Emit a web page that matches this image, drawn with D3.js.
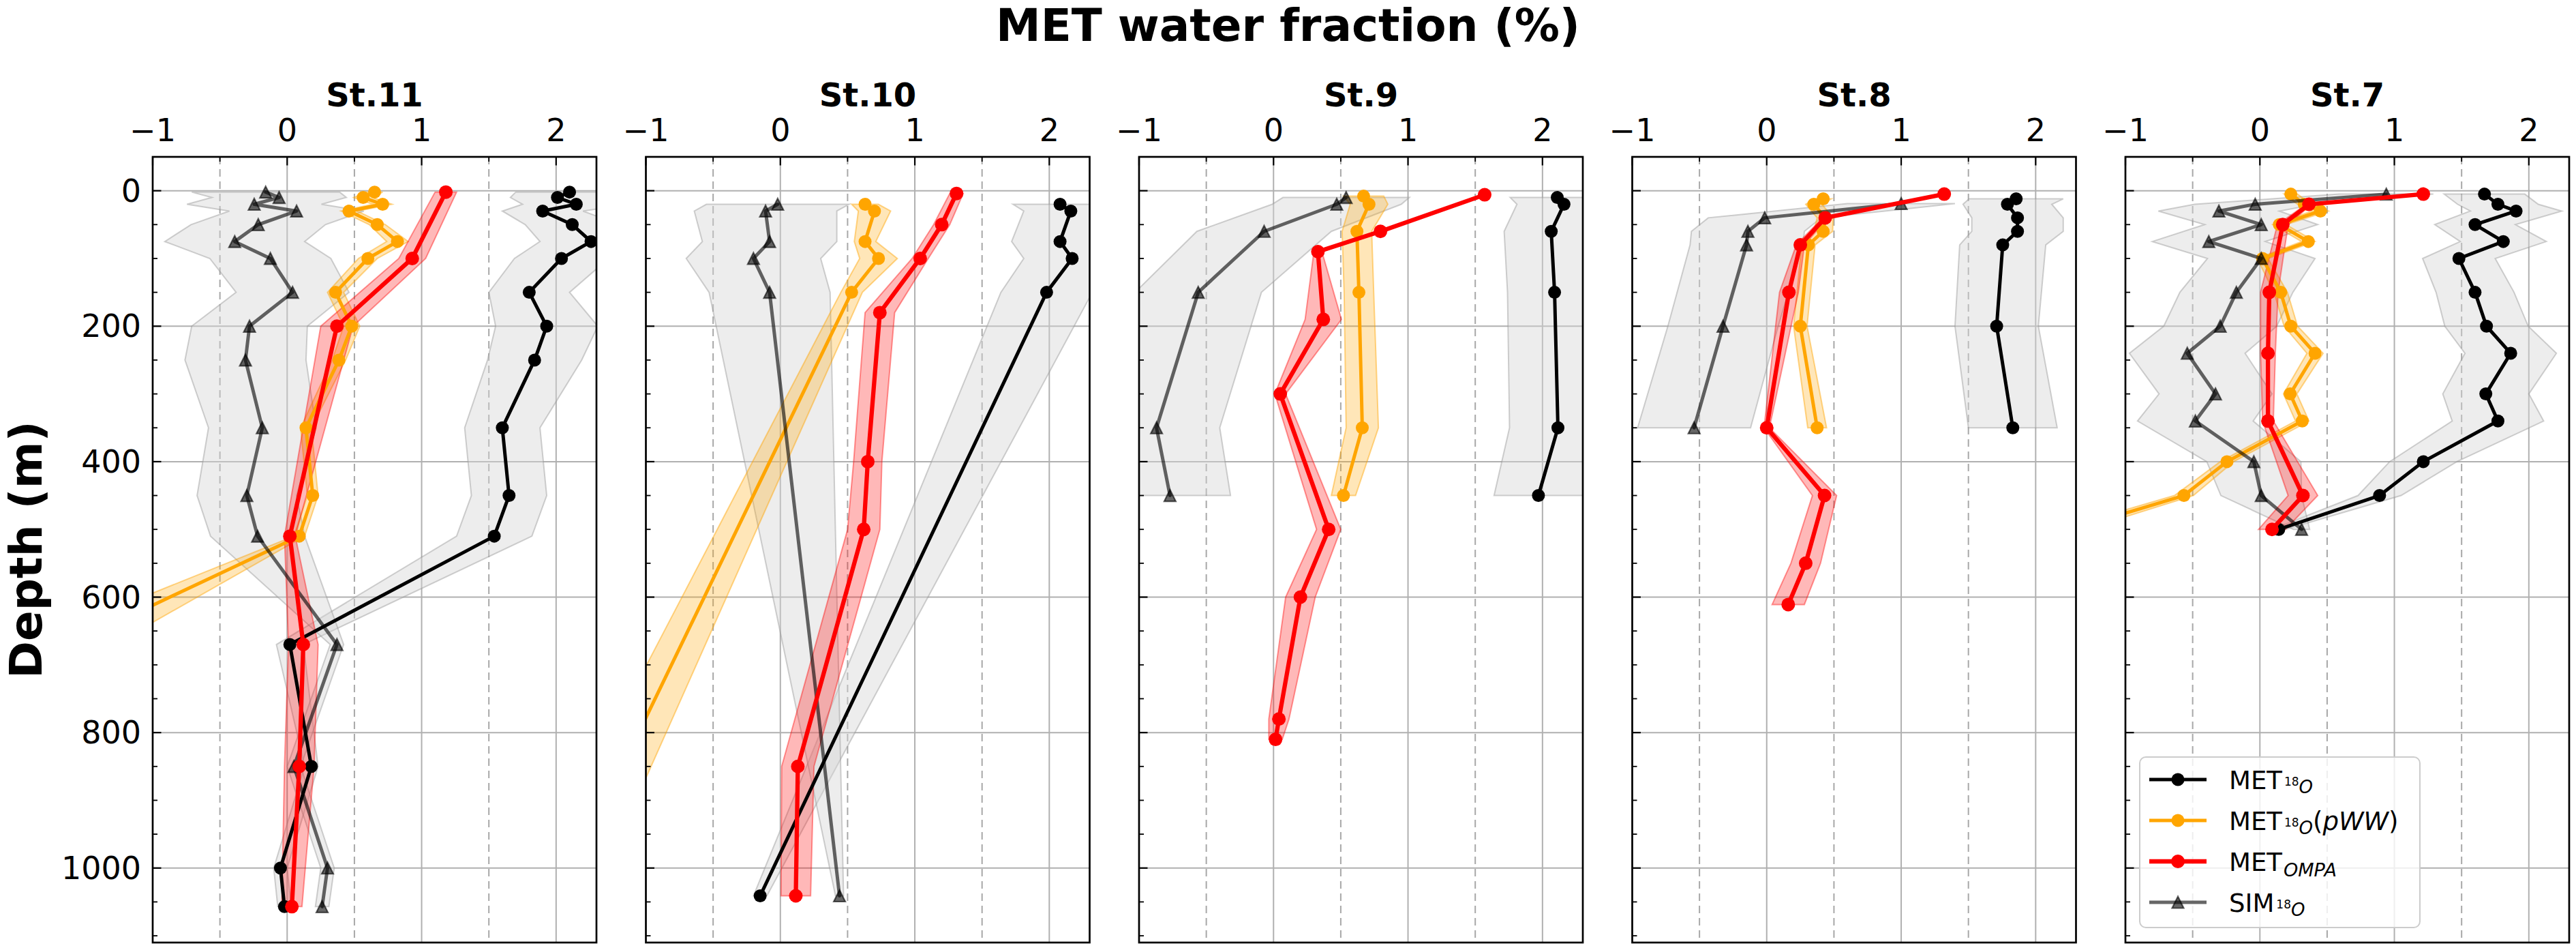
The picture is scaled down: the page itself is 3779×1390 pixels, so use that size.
<!DOCTYPE html>
<html><head><meta charset="utf-8">
<script src="https://cdn.jsdelivr.net/npm/d3@7"></script>
<style>
body{margin:0;background:#fff}
svg{display:block}
text{font-family:"DejaVu Sans",sans-serif}
</style>
</head><body>
<svg id="chart" width="3779" height="1390"></svg>
<script>
// ---------------- DATA ----------------
const stations = ["St.11", "St.10", "St.9", "St.8", "St.7"];
const xTicks = [-1, 0, 1, 2];
const xMinorTicks = [-0.5, 0.5, 1.5];
const yTicks = [0, 200, 400, 600, 800, 1000];
const legendLabels = ["MET18O", "MET18O(pWW)", "METOMPA", "SIM18O"];

// St.11
const st11Depth      = [2, 10, 20, 30, 50, 75, 100, 150, 200, 250, 350, 450, 510, 670, 850, 1000, 1057];
const st11Met18O     = [2.10, 2.01, 2.15, 1.90, 2.12, 2.26, 2.04, 1.80, 1.93, 1.84, 1.60, 1.65, 1.54, 0.02, 0.18, -0.05, -0.02];
const st11Met18OErr  = [0.40, 0.35, 0.40, 0.30, 0.35, 0.38, 0.35, 0.30, 0.38, 0.35, 0.28, 0.28, 0.28, 0.10, 0.05, 0.05, 0.05];
const st11Sim        = [-0.16, -0.06, -0.245, 0.07, -0.215, -0.39, -0.125, 0.04, -0.28, -0.31, -0.185, -0.30, -0.22, 0.37, 0.05, 0.30, 0.26];
const st11SimErr     = [0.55, 0.50, 0.50, 0.50, 0.50, 0.52, 0.45, 0.42, 0.43, 0.45, 0.40, 0.37, 0.35, 0.05, 0.05, 0.05, 0.05];
const st11PwwDepth   = [2, 10, 20, 30, 50, 75, 100, 150, 200, 250, 350, 450, 510, 670];
const st11Pww        = [0.65, 0.565, 0.71, 0.46, 0.67, 0.82, 0.60, 0.36, 0.48, 0.385, 0.14, 0.19, 0.09, -1.62];
const st11PwwErr     = [0.06, 0.07, 0.07, 0.06, 0.06, 0.08, 0.07, 0.06, 0.06, 0.05, 0.04, 0.04, 0.04, 0.33];
const st11OmpaDepth  = [2, 100, 200, 510, 670, 850, 1057];
const st11Ompa       = [1.18, 0.93, 0.37, 0.02, 0.12, 0.09, 0.035];
const st11OmpaErr    = [0.08, 0.10, 0.12, 0.04, 0.11, 0.11, 0.075];

// St.10
const st10Depth      = [20, 30, 75, 100, 150, 1041];
const st10Met18O     = [2.08, 2.16, 2.08, 2.17, 1.98, -0.15];
const st10Met18OErr  = [0.35, 0.35, 0.36, 0.36, 0.34, 0.05];
const st10Sim        = [-0.02, -0.11, -0.08, -0.20, -0.08, 0.44];
const st10SimErr     = [0.53, 0.53, 0.50, 0.50, 0.45, 0.03];
const st10PwwDepth   = [20, 30, 75, 100, 150, 1041];
const st10Pww        = [0.63, 0.70, 0.63, 0.73, 0.53, -1.64];
const st10PwwErr     = [0.10, 0.12, 0.08, 0.14, 0.08, 0.25];
const st10OmpaDepth  = [4, 50, 100, 180, 400, 500, 850, 1041];
const st10Ompa       = [1.31, 1.20, 1.04, 0.74, 0.65, 0.62, 0.13, 0.115];
const st10OmpaErr    = [0.05, 0.06, 0.06, 0.11, 0.105, 0.12, 0.12, 0.11];

// St.9
const st9Depth       = [10, 20, 60, 150, 350, 450];
const st9Met18O      = [2.11, 2.16, 2.065, 2.09, 2.115, 1.97];
const st9Met18OErr   = [0.35, 0.35, 0.35, 0.35, 0.36, 0.33];
const st9Sim         = [0.54, 0.47, -0.07, -0.56, -0.87, -0.77];
const st9SimErr      = [0.47, 0.48, 0.50, 0.47, 0.47, 0.45];
const st9PwwDepth    = [8, 20, 60, 150, 350, 450];
const st9Pww         = [0.67, 0.71, 0.62, 0.635, 0.66, 0.52];
const st9PwwErr      = [0.15, 0.14, 0.11, 0.11, 0.12, 0.09];
const st9OmpaDepth   = [6, 60, 90, 190, 300, 500, 600, 780, 810];
const st9Ompa        = [1.57, 0.795, 0.33, 0.37, 0.05, 0.41, 0.20, 0.04, 0.015];
const st9OmpaErr     = [0.01, 0.01, 0.03, 0.135, 0.04, 0.09, 0.11, 0.075, 0.05];

// St.8
const st8Depth       = [12, 20, 40, 60, 80, 200, 350];
const st8Met18O      = [1.855, 1.79, 1.865, 1.865, 1.755, 1.71, 1.83];
const st8Met18OErr   = [0.35, 0.33, 0.34, 0.34, 0.32, 0.31, 0.33];
const st8SimDepth    = [19, 40, 60, 80, 200, 350];
const st8Sim         = [1.00, -0.015, -0.14, -0.15, -0.325, -0.54];
const st8SimErr      = [0.40, 0.42, 0.42, 0.42, 0.41, 0.42];
const st8PwwDepth    = [12, 20, 40, 60, 80, 200, 350];
const st8Pww         = [0.42, 0.35, 0.435, 0.42, 0.31, 0.25, 0.375];
const st8PwwErr      = [0.06, 0.06, 0.06, 0.07, 0.05, 0.05, 0.07];
const st8OmpaDepth   = [5, 40, 80, 150, 350, 450, 550, 611];
const st8Ompa        = [1.32, 0.435, 0.25, 0.165, 0.0, 0.43, 0.29, 0.16];
const st8OmpaErr     = [0.01, 0.02, 0.03, 0.07, 0.02, 0.09, 0.11, 0.12];

// St.7
const st7Depth       = [5, 20, 30, 50, 75, 100, 150, 200, 240, 300, 340, 400, 450, 500];
const st7Met18O      = [1.67, 1.77, 1.905, 1.60, 1.81, 1.48, 1.60, 1.685, 1.865, 1.68, 1.77, 1.215, 0.89, 0.14];
const st7Met18OErr   = [0.30, 0.30, 0.34, 0.30, 0.32, 0.27, 0.29, 0.31, 0.34, 0.32, 0.34, 0.25, 0.16, 0.05];
const st7Sim         = [0.94, -0.035, -0.305, 0.01, -0.38, 0.01, -0.175, -0.295, -0.54, -0.33, -0.48, -0.045, 0.01, 0.31];
const st7SimErr      = [0.35, 0.45, 0.45, 0.42, 0.42, 0.40, 0.42, 0.42, 0.43, 0.42, 0.43, 0.35, 0.30, 0.06];
const st7PwwDepth    = [5, 20, 30, 50, 75, 100, 150, 200, 240, 300, 340, 400, 450, 500];
const st7Pww         = [0.23, 0.33, 0.45, 0.145, 0.36, 0.02, 0.155, 0.23, 0.41, 0.225, 0.315, -0.245, -0.565, -1.40];
const st7PwwErr      = [0.05, 0.05, 0.06, 0.05, 0.05, 0.04, 0.05, 0.05, 0.06, 0.05, 0.05, 0.05, 0.07, 0.10];
const st7OmpaDepth   = [5, 20, 50, 150, 240, 340, 450, 500];
const st7Ompa        = [1.215, 0.365, 0.17, 0.07, 0.06, 0.06, 0.32, 0.09];
const st7OmpaErr     = [0.01, 0.02, 0.04, 0.065, 0.055, 0.04, 0.11, 0.10];

(function () {
// table built from the arrays
const zip = (d, v, e) => d.map((dd, i) => ({depth: dd, v: v[i], e: e[i]}));
const panels = [
  {name: stations[0], met: zip(st11Depth, st11Met18O, st11Met18OErr), sim: zip(st11Depth, st11Sim, st11SimErr), pww: zip(st11PwwDepth, st11Pww, st11PwwErr), ompa: zip(st11OmpaDepth, st11Ompa, st11OmpaErr)},
  {name: stations[1], met: zip(st10Depth, st10Met18O, st10Met18OErr), sim: zip(st10Depth, st10Sim, st10SimErr), pww: zip(st10PwwDepth, st10Pww, st10PwwErr), ompa: zip(st10OmpaDepth, st10Ompa, st10OmpaErr)},
  {name: stations[2], met: zip(st9Depth, st9Met18O, st9Met18OErr), sim: zip(st9Depth, st9Sim, st9SimErr), pww: zip(st9PwwDepth, st9Pww, st9PwwErr), ompa: zip(st9OmpaDepth, st9Ompa, st9OmpaErr)},
  {name: stations[3], met: zip(st8Depth, st8Met18O, st8Met18OErr), sim: zip(st8SimDepth, st8Sim, st8SimErr), pww: zip(st8PwwDepth, st8Pww, st8PwwErr), ompa: zip(st8OmpaDepth, st8Ompa, st8OmpaErr)},
  {name: stations[4], met: zip(st7Depth, st7Met18O, st7Met18OErr), sim: zip(st7Depth, st7Sim, st7SimErr), pww: zip(st7PwwDepth, st7Pww, st7PwwErr), ompa: zip(st7OmpaDepth, st7Ompa, st7OmpaErr)}
];

// ---------------- LAYOUT ----------------
const svg = d3.select("#chart");
const W = 3779;
const yTop = 230, yBot = 1382, pw = 651, step = 723.5, left0 = 224;
const y = d3.scaleLinear().domain([-50, 1110]).range([yTop, yBot]);
const yMinor = d3.range(50, 1101, 50).filter(v => v % 200 !== 0);

const styles = {
  met:  {color: "#000000", lw: 5, r: 9.5, band: "rgb(211,211,211)", bandOp: 0.42, edge: "rgb(150,150,150)", edgeOp: 0.45},
  sim:  {color: "#000000", lw: 5, r: 9.5, band: "rgb(211,211,211)", bandOp: 0.42, edge: "rgb(150,150,150)", edgeOp: 0.45},
  pww:  {color: "#FFA500", lw: 5, r: 9.5, band: "#FFA500", bandOp: 0.28, edge: "#FFA500", edgeOp: 0.45},
  ompa: {color: "#FF0000", lw: 6.3, r: 10, band: "#FF0000", bandOp: 0.28, edge: "#FF0000", edgeOp: 0.4}
};
const tri = s => `M0,${-s}L${-s},${s}L${s},${s}Z`;

// super title
svg.append("text").attr("x", W / 2).attr("y", 60).attr("text-anchor", "middle")
  .style("font-size", "66px").style("font-weight", "bold").text("MET water fraction (%)");
// y label
svg.append("text").attr("transform", `translate(61,${(yTop + yBot) / 2}) rotate(-90)`)
  .attr("text-anchor", "middle").style("font-size", "66px").style("font-weight", "bold").text("Depth (m)");

const fmt = v => (v < 0 ? "\u2212" + Math.abs(v) : String(v));

panels.forEach((p, i) => {
  const L = left0 + i * step;
  const x = d3.scaleLinear().domain([-1, 2.3]).range([L, L + pw]);
  const g = svg.append("g");
  const clipId = "clip" + i;
  svg.append("clipPath").attr("id", clipId).append("rect")
    .attr("x", L).attr("y", yTop).attr("width", pw).attr("height", yBot - yTop);

  // grid
  const grid = g.append("g").attr("clip-path", `url(#${clipId})`);
  xTicks.forEach(t => grid.append("line").attr("x1", x(t)).attr("x2", x(t)).attr("y1", yTop).attr("y2", yBot)
    .attr("stroke", "#b0b0b0").attr("stroke-width", 2));
  xMinorTicks.forEach(t => grid.append("line").attr("x1", x(t)).attr("x2", x(t)).attr("y1", yTop).attr("y2", yBot)
    .attr("stroke", "#a8a8a8").attr("stroke-width", 2).attr("stroke-dasharray", "11,7"));
  yTicks.forEach(t => grid.append("line").attr("x1", L).attr("x2", L + pw).attr("y1", y(t)).attr("y2", y(t))
    .attr("stroke", "#b0b0b0").attr("stroke-width", 2));

  const plot = g.append("g").attr("clip-path", `url(#${clipId})`);
  const area = d3.area().curve(d3.curveLinear)
    .y(d => y(d.depth)).x0(d => x(d.v - d.e)).x1(d => x(d.v + d.e));
  const line = d3.line().x(d => x(d.v)).y(d => y(d.depth));

  // bands
  ["met", "sim", "pww", "ompa"].forEach(k => {
    const s = styles[k];
    plot.append("path").datum(p[k]).attr("d", area)
      .attr("fill", s.band).attr("fill-opacity", s.bandOp)
      .attr("stroke", s.edge).attr("stroke-opacity", s.edgeOp).attr("stroke-width", 2);
  });

  // lines + markers
  ["met", "pww", "sim", "ompa"].forEach(k => {
    const s = styles[k];
    const op = k === "sim" ? 0.6 : 1;
    const gg = plot.append("g");
    gg.append("path").datum(p[k]).attr("d", line).attr("fill", "none")
      .attr("stroke", s.color).attr("stroke-opacity", op).attr("stroke-width", s.lw)
      .attr("stroke-linejoin", "round").attr("stroke-linecap", "round");
    if (k === "sim") {
      gg.selectAll("path.m").data(p[k]).join("path").attr("class", "m")
        .attr("d", tri(8.5)).attr("transform", d => `translate(${x(d.v)},${y(d.depth)})`)
        .attr("fill", "#000").attr("fill-opacity", 0.6)
        .attr("stroke", "#000").attr("stroke-opacity", 0.6).attr("stroke-width", 2.2);
    } else {
      gg.selectAll("circle").data(p[k]).join("circle")
        .attr("cx", d => x(d.v)).attr("cy", d => y(d.depth)).attr("r", s.r).attr("fill", s.color);
    }
  });

  // spines
  g.append("rect").attr("x", L).attr("y", yTop).attr("width", pw).attr("height", yBot - yTop)
    .attr("fill", "none").attr("stroke", "#000").attr("stroke-width", 2.7);

  // ticks (inward)
  xTicks.forEach(t => g.append("line").attr("x1", x(t)).attr("x2", x(t)).attr("y1", yTop).attr("y2", yTop + 12.5)
    .attr("stroke", "#000").attr("stroke-width", 2.2));
  xMinorTicks.forEach(t => g.append("line").attr("x1", x(t)).attr("x2", x(t)).attr("y1", yTop).attr("y2", yTop + 7)
    .attr("stroke", "#000").attr("stroke-width", 1.8));
  yTicks.forEach(t => g.append("line").attr("x1", L).attr("x2", L + 12.5).attr("y1", y(t)).attr("y2", y(t))
    .attr("stroke", "#000").attr("stroke-width", 2.2));
  yMinor.forEach(t => g.append("line").attr("x1", L).attr("x2", L + 7).attr("y1", y(t)).attr("y2", y(t))
    .attr("stroke", "#000").attr("stroke-width", 1.8));

  // tick labels
  xTicks.forEach(t => g.append("text").attr("x", x(t)).attr("y", 207).attr("text-anchor", "middle")
    .style("font-size", "46px").text(fmt(t)));
  if (i === 0) {
    yTicks.forEach(t => g.append("text").attr("x", L - 17).attr("y", y(t)).attr("text-anchor", "end")
      .attr("dominant-baseline", "central").style("font-size", "46px").text(t));
  }
  // panel title
  g.append("text").attr("x", L + pw / 2).attr("y", 156).attr("text-anchor", "middle")
    .style("font-size", "48px").style("font-weight", "bold").text(p.name);
});

// ---------------- LEGEND ----------------
const lg = svg.append("g");
lg.append("rect").attr("x", 3139).attr("y", 1110).attr("width", 411).attr("height", 250).attr("rx", 9)
  .attr("fill", "#fff").attr("fill-opacity", 0.8).attr("stroke", "#cccccc").attr("stroke-width", 2);
const rows = [1143, 1203, 1263, 1323];
const legKeys = ["met", "pww", "ompa", "sim"];
legKeys.forEach((k, j) => {
  const s = styles[k], ry = rows[j];
  const op = k === "sim" ? 0.6 : 1;
  lg.append("line").attr("x1", 3153).attr("x2", 3237).attr("y1", ry).attr("y2", ry)
    .attr("stroke", s.color).attr("stroke-opacity", op).attr("stroke-width", s.lw);
  if (k === "sim") {
    lg.append("path").attr("d", tri(8.5)).attr("transform", `translate(3195,${ry})`)
      .attr("fill", "#000").attr("fill-opacity", 0.6).attr("stroke", "#000").attr("stroke-opacity", 0.6).attr("stroke-width", 2.2);
  } else {
    lg.append("circle").attr("cx", 3195).attr("cy", ry).attr("r", s.r).attr("fill", s.color);
  }
  const t = lg.append("text").attr("x", 3270).attr("y", ry + 14).style("font-size", "37px")
    .attr("data-label", legendLabels[j]);
  if (k === "ompa") {
    t.append("tspan").text("MET");
    t.append("tspan").attr("dx", 2).attr("dy", 8).style("font-size", "27px").style("font-style", "italic").text("OMPA");
  } else {
    t.append("tspan").text(k === "sim" ? "SIM" : "MET");
    t.append("tspan").attr("dx", 3).attr("dy", -5).style("font-size", "17px").text("18");
    t.append("tspan").attr("dy", 11).style("font-size", "26px").style("font-style", "italic").text("O");
    if (k === "pww") {
      t.append("tspan").attr("dy", -6).text("(");
      t.append("tspan").style("font-style", "italic").text("pWW");
      t.append("tspan").text(")");
    }
  }
});
})();
</script>
</body></html>
